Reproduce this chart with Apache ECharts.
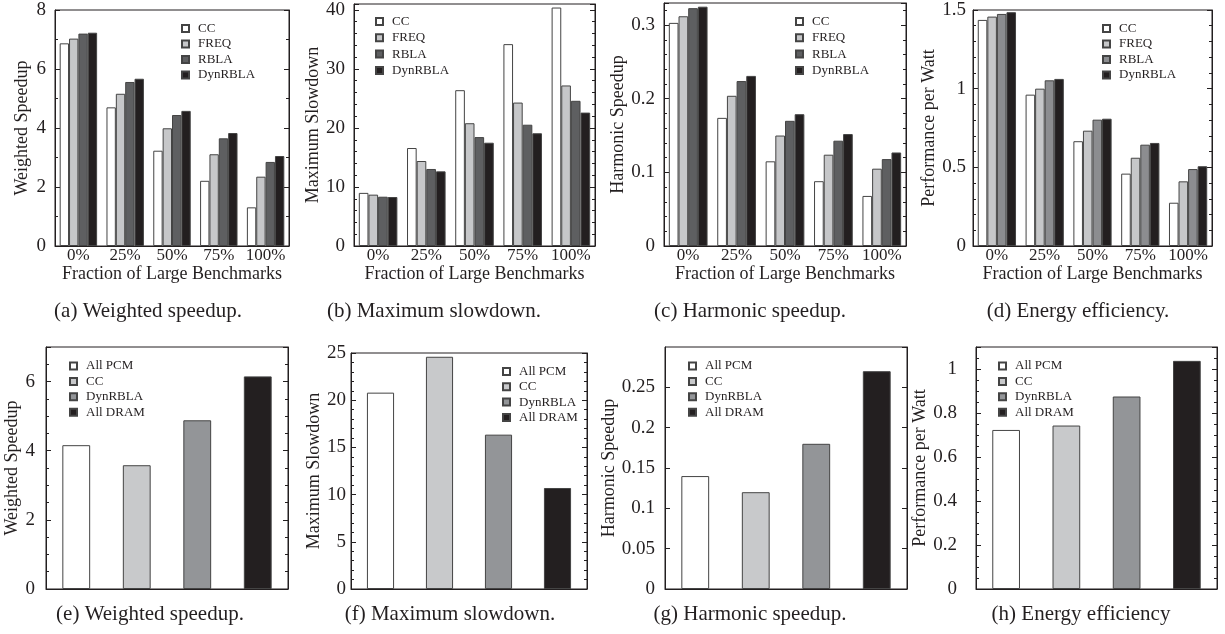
<!DOCTYPE html>
<html>
<head>
<meta charset="utf-8">
<title>Hybrid memory results</title>
<script src="https://cdn.jsdelivr.net/npm/echarts@6/dist/echarts.min.js"></script>
<style>
  html, body { margin: 0; padding: 0; background: #fff; }
  #main { width: 1225px; height: 634px; }
</style>
</head>
<body>
<div id="main"></div>
<script>
// categories
const fractions = ["0%", "25%", "50%", "75%", "100%"];
const policies = ["CC", "FREQ", "RBLA", "DynRBLA"];
const systems = ["All PCM", "CC", "DynRBLA", "All DRAM"];

// (a) weighted speedup
const wsCC = [6.87, 4.70, 3.23, 2.21, 1.31];
const wsFREQ = [7.03, 5.16, 3.99, 3.11, 2.35];
const wsRBLA = [7.20, 5.56, 4.44, 3.65, 2.85];
const wsDynRBLA = [7.23, 5.67, 4.58, 3.83, 3.05];

// (b) maximum slowdown
const msCC = [9.0, 16.6, 26.4, 34.2, 40.4];
const msFREQ = [8.7, 14.4, 20.8, 24.3, 27.2];
const msRBLA = [8.35, 13.05, 18.45, 20.55, 24.6];
const msDynRBLA = [8.3, 12.65, 17.5, 19.1, 22.6];

// (c) harmonic speedup
const hsCC = [0.303, 0.174, 0.115, 0.088, 0.068];
const hsFREQ = [0.312, 0.204, 0.150, 0.124, 0.105];
const hsRBLA = [0.323, 0.224, 0.170, 0.143, 0.118];
const hsDynRBLA = [0.325, 0.231, 0.179, 0.152, 0.127];

// (d) performance per watt
const ppwCC = [1.437, 0.962, 0.666, 0.46, 0.275];
const ppwFREQ = [1.458, 1.0, 0.733, 0.561, 0.411];
const ppwRBLA = [1.475, 1.053, 0.803, 0.644, 0.489];
const ppwDynRBLA = [1.486, 1.062, 0.809, 0.655, 0.507];

// (e)-(h) all PCM / CC / DynRBLA / all DRAM
const wsSystems = [4.16, 3.58, 4.88, 6.15];
const msSystems = [20.8, 24.6, 16.35, 10.7];
const hsSystems = [0.14, 0.12, 0.18, 0.27];
const ppwSystems = [0.723, 0.743, 0.875, 1.037];

const FONT = "'Liberation Serif', 'Times New Roman', serif";
const INK = "#231f20";
const EDGE = "#444";
const topColors = ["#ffffff", "#c6c7c9", "#5e5f61", INK];
const topColorsD = ["#ffffff", "#c6c7c9", "#8c8d90", INK];
const sysColors = ["#ffffff", "#c8c9cb", "#939598", INK];

var option = {
  animation: false,
  backgroundColor: "#fff",
  grid: [], xAxis: [], yAxis: [], series: [], legend: [], graphic: []
};

function addPanel(p) {
  var i = option.grid.length;
  option.grid.push({
    left: p.box[0], top: p.box[1], width: p.box[2], height: p.box[3],
    show: true, borderColor: INK, borderWidth: 1
  });
  option.xAxis.push({
    gridIndex: i, type: "category", data: p.cats,
    axisLine: { show: true, lineStyle: { color: INK } },
    axisTick: { show: false },
    axisLabel: { show: !!p.xName, interval: 0, color: INK, fontFamily: FONT, fontSize: 17, margin: 1 },
    name: p.xName || "", nameLocation: "middle", nameGap: 16,
    nameTextStyle: { color: INK, fontFamily: FONT, fontSize: 18 }
  });
  var yBase = {
    gridIndex: i, type: "value", min: 0, max: p.max, interval: p.step,
    splitLine: { show: false },
    axisLine: { show: true, lineStyle: { color: INK } },
    axisTick: { show: true, inside: true, length: 5, lineStyle: { color: INK } },
    minorTick: { show: p.minor > 1, splitNumber: p.minor || 1, length: 3, lineStyle: { color: INK } }
  };
  option.yAxis.push(Object.assign({}, yBase, {
    position: "left",
    axisLabel: { color: INK, fontFamily: FONT, fontSize: 19, margin: p.labelGap, showMaxLabel: p.maxLabel !== false },
    name: p.yName, nameLocation: "middle", nameRotate: 90, nameGap: p.nameGap,
    nameTextStyle: { color: INK, fontFamily: FONT, fontSize: 18 }
  }));
  option.yAxis.push(Object.assign({}, yBase, {
    position: "right", axisLabel: { show: false }
  }));

  var names = [];
  p.values.forEach(function (vals, k) {
    var name = p.names[k] + "@" + p.tag;
    names.push(name);
    var s = {
      name: name, type: "bar", xAxisIndex: i, yAxisIndex: 2 * i,
      itemStyle: { color: p.colors[k], borderColor: EDGE, borderWidth: 1 }
    };
    if (p.single) {
      // one bar per category, each its own series so the legend gets its colour
      s.stack = "sys" + i;
      s.barWidth = "46%";
      s.data = p.cats.map(function (c, j) { return j === k ? vals : "-"; });
    } else {
      s.barGap = "0%";
      s.barCategoryGap = "20%";
      s.data = vals;
    }
    option.series.push(s);
  });

  option.legend.push({
    orient: "vertical", left: p.legend[0], top: p.legend[1], itemGap: p.legend[2],
    data: names, icon: "rect", itemWidth: 7, itemHeight: 7, selectedMode: false,
    formatter: function (n) { return n.split("@")[0]; },
    textStyle: { color: INK, fontFamily: FONT, fontSize: 13, lineHeight: 13, padding: [0, 0, 0, 4] }
  });

  option.graphic.push({
    type: "text", x: p.caption[1], y: p.caption[2],
    style: { text: p.caption[0], fill: INK, fontFamily: FONT, fontSize: 21, align: "center", verticalAlign: "middle" }
  });
}

var xName = "Fraction of Large Benchmarks";

addPanel({ tag: "a", box: [55, 10, 234, 236], cats: fractions, xName: xName,
  yName: "Weighted Speedup", nameGap: 24, labelGap: 9, max: 8, step: 2, minor: 2,
  names: policies, colors: topColors, values: [wsCC, wsFREQ, wsRBLA, wsDynRBLA],
  legend: [176, 17, 2.5], caption: ["(a) Weighted speedup.", 148, 311] });

addPanel({ tag: "b", box: [354, 4, 241, 242], cats: fractions, xName: xName,
  yName: "Maximum Slowdown", nameGap: 27, labelGap: 9, max: 41, step: 10, minor: 5, maxLabel: false,
  names: policies, colors: topColors, values: [msCC, msFREQ, msRBLA, msDynRBLA],
  legend: [370, 10, 3.3], caption: ["(b) Maximum slowdown.", 434, 311] });

addPanel({ tag: "c", box: [664, 3, 242, 243], cats: fractions, xName: xName,
  yName: "Harmonic Speedup", nameGap: 36, labelGap: 9, max: 0.33, step: 0.1, minor: 5, maxLabel: false,
  names: policies, colors: topColors, values: [hsCC, hsFREQ, hsRBLA, hsDynRBLA],
  legend: [790, 10, 3.3], caption: ["(c) Harmonic speedup.", 750, 311] });

addPanel({ tag: "d", box: [973, 10, 239, 236], cats: fractions, xName: xName,
  yName: "Performance per Watt", nameGap: 32, labelGap: 7, max: 1.5, step: 0.5, minor: 5,
  names: policies, colors: topColorsD, values: [ppwCC, ppwFREQ, ppwRBLA, ppwDynRBLA],
  legend: [1097, 17, 2.5], caption: ["(d) Energy efficiency.", 1078, 311] });

addPanel({ tag: "e", box: [46, 347, 242, 242], cats: systems, single: true,
  yName: "Weighted Speedup", nameGap: 19, labelGap: 11, max: 7, step: 2, minor: 4, maxLabel: false,
  names: systems, colors: sysColors, values: wsSystems,
  legend: [64, 354.5, 2.4], caption: ["(e) Weighted speedup.", 150, 614] });

addPanel({ tag: "f", box: [351, 353, 236, 236], cats: systems, single: true,
  yName: "Maximum Slowdown", nameGap: 28, labelGap: 5, max: 25, step: 5, minor: 5,
  names: systems, colors: sysColors, values: msSystems,
  legend: [497, 360, 2.3], caption: ["(f) Maximum slowdown.", 450, 614] });

addPanel({ tag: "g", box: [665, 347, 242, 242], cats: systems, single: true,
  yName: "Harmonic Speedup", nameGap: 42, labelGap: 10, max: 0.3, step: 0.05, minor: 1, maxLabel: false,
  names: systems, colors: sysColors, values: hsSystems,
  legend: [683, 354.5, 2.4], caption: ["(g) Harmonic speedup.", 750, 614] });

addPanel({ tag: "h", box: [976, 347, 241, 242], cats: systems, single: true,
  yName: "Performance per Watt", nameGap: 34, labelGap: 19, max: 1.1, step: 0.2, minor: 4, maxLabel: false,
  names: systems, colors: sysColors, values: ppwSystems,
  legend: [993, 354.5, 2.4], caption: ["(h) Energy efficiency", 1081, 614] });

var chart = echarts.init(document.getElementById("main"));
chart.setOption(option);
</script>
</body>
</html>
